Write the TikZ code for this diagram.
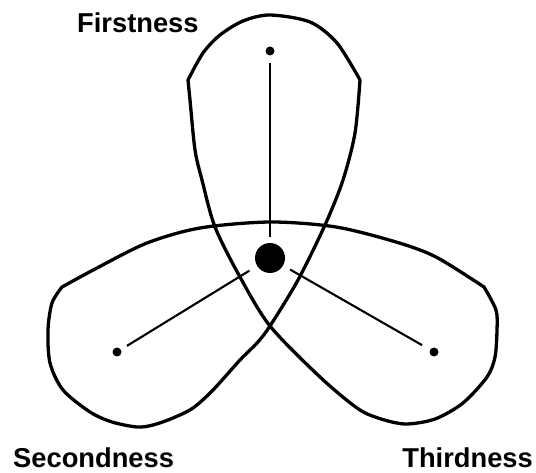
\documentclass[tikz,border=0pt]{standalone}
\usepackage{fontspec}
\setmainfont{Liberation Sans}
\begin{document}
\begin{tikzpicture}[x=1pt,y=-1pt,
  outline/.style={line width=3.3pt,line join=round},
  conn/.style={line width=2.1pt},
  smalldot/.style={circle,fill=black,inner sep=0pt,minimum size=9pt},
  bigdot/.style={circle,fill=black,inner sep=0pt,minimum size=30pt},
  lbl/.style={inner sep=0pt,text depth=0pt,font=\fontsize{27.3}{30}\selectfont\bfseries}]
\useasboundingbox (0,0) rectangle (536,473);
\fill[white] (0,0) rectangle (536,473);
% trefoil outline
\draw[outline]
  plot[smooth] coordinates {(188,80) (203,53) (220,35) (243,21) (270,15) (310,22) (337,43) (360,80)}
  -- plot[smooth] coordinates {(360,80) (355,133) (343,180) (325,225) (298,280) (270,326) (257,343) (240,360) (213,390) (193,408) (173,418) (153,425) (137,427) (112,422) (90,412) (63,390) (50,363) (48,330) (52,303) (62,287)}
  -- plot[smooth] coordinates {(62,287) (97,268) (147,243) (200,228) (270,222) (336,227) (396,242) (436,257) (484,287)}
  -- plot[smooth] coordinates {(484,287) (496,310) (497,330) (495,357) (487,377) (463,403) (435,419) (405,424) (378,418) (357,408) (320,377) (270,326) (240,277) (215,227) (202,180) (195,150) (190,100) (188,80)}
  -- cycle;
% dots
\node[smalldot] (f) at (270,51) {};
\node[bigdot] (c) at (270,258) {};
\node[smalldot] (s) at (117,352) {};
\node[smalldot] (t) at (434,352) {};
% connectors
\draw[conn,shorten <=7pt,shorten >=6pt] (f) -- (c);
\draw[conn,shorten <=9pt,shorten >=7pt] (c) -- (s);
\draw[conn,shorten <=8pt,shorten >=9pt] (c) -- (t);
% labels
\node[lbl,anchor=base west] (lf) at (77,33) {Firstness};
\node[lbl,anchor=base west] (ls) at (13,467) {Secondness};
\node[lbl,anchor=base east] (lt) at (533,467) {Thirdness};
\end{tikzpicture}
\end{document}
